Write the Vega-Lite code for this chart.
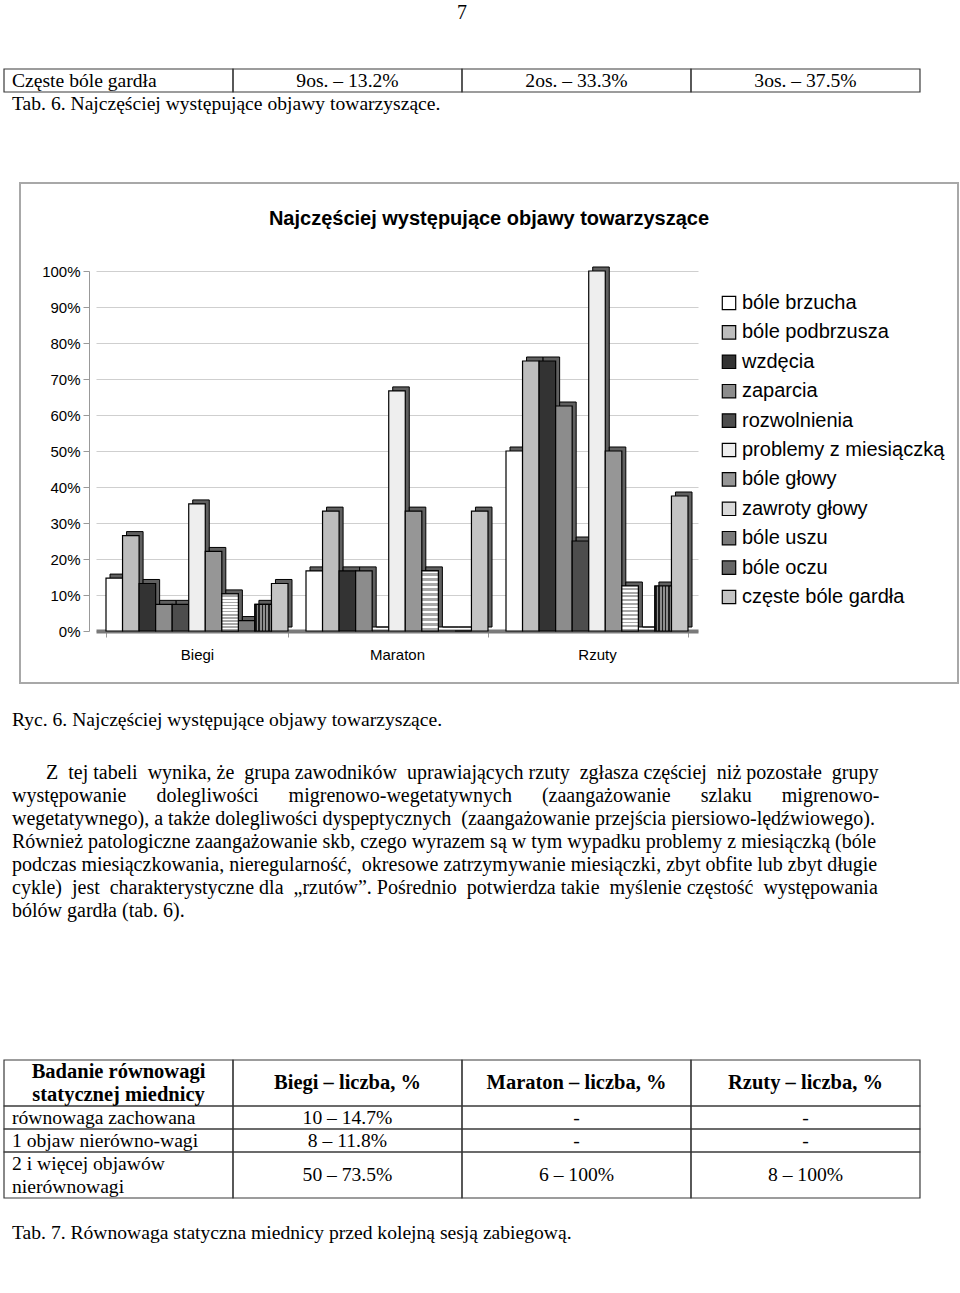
{
  "$schema": "https://vega.github.io/schema/vega-lite/v6.json",
  "padding": 0,
  "spacing": 0,
  "background": "#ffffff",
  "config": {
    "view": {"stroke": null},
    "font": "Liberation Serif",
    "text": {"font": "Liberation Serif", "fontSize": 19.6, "color": "#000000"}
  },
  "datasets": {
    "bars": [
      {"group": "Biegi", "symptom": "bóle brzucha", "value": 14.7},
      {"group": "Biegi", "symptom": "bóle podbrzusza", "value": 26.5},
      {"group": "Biegi", "symptom": "wzdęcia", "value": 13.2},
      {"group": "Biegi", "symptom": "zaparcia", "value": 7.4},
      {"group": "Biegi", "symptom": "rozwolnienia", "value": 7.4},
      {"group": "Biegi", "symptom": "problemy z miesiączką", "value": 35.3},
      {"group": "Biegi", "symptom": "bóle głowy", "value": 22.1},
      {"group": "Biegi", "symptom": "zawroty głowy", "value": 10.3},
      {"group": "Biegi", "symptom": "bóle uszu", "value": 2.9},
      {"group": "Biegi", "symptom": "bóle oczu", "value": 7.4},
      {"group": "Biegi", "symptom": "częste bóle gardła", "value": 13.2},
      {"group": "Maraton", "symptom": "bóle brzucha", "value": 16.7},
      {"group": "Maraton", "symptom": "bóle podbrzusza", "value": 33.3},
      {"group": "Maraton", "symptom": "wzdęcia", "value": 16.7},
      {"group": "Maraton", "symptom": "zaparcia", "value": 16.7},
      {"group": "Maraton", "symptom": "rozwolnienia", "value": 0},
      {"group": "Maraton", "symptom": "problemy z miesiączką", "value": 66.7},
      {"group": "Maraton", "symptom": "bóle głowy", "value": 33.3},
      {"group": "Maraton", "symptom": "zawroty głowy", "value": 16.7},
      {"group": "Maraton", "symptom": "bóle uszu", "value": 0},
      {"group": "Maraton", "symptom": "bóle oczu", "value": 0},
      {"group": "Maraton", "symptom": "częste bóle gardła", "value": 33.3},
      {"group": "Rzuty", "symptom": "bóle brzucha", "value": 50},
      {"group": "Rzuty", "symptom": "bóle podbrzusza", "value": 75},
      {"group": "Rzuty", "symptom": "wzdęcia", "value": 75},
      {"group": "Rzuty", "symptom": "zaparcia", "value": 62.5},
      {"group": "Rzuty", "symptom": "rozwolnienia", "value": 25},
      {"group": "Rzuty", "symptom": "problemy z miesiączką", "value": 100},
      {"group": "Rzuty", "symptom": "bóle głowy", "value": 50},
      {"group": "Rzuty", "symptom": "zawroty głowy", "value": 12.5},
      {"group": "Rzuty", "symptom": "bóle uszu", "value": 0},
      {"group": "Rzuty", "symptom": "bóle oczu", "value": 12.5},
      {"group": "Rzuty", "symptom": "częste bóle gardła", "value": 37.5}
    ],
    "v1text": [
      {"kind": "page", "col": "2", "line": 0.58, "text": "7"},
      {"kind": "left", "col": "0", "line": 3.5, "text": "Częste bóle gardła"},
      {"kind": "center", "col": "1", "line": 3.5, "text": "9os. – 13.2%"},
      {"kind": "center", "col": "2", "line": 3.5, "text": "2os. – 33.3%"},
      {"kind": "center", "col": "3", "line": 3.5, "text": "3os. – 37.5%"},
      {"kind": "left", "col": "0", "line": 4.5, "text": "Tab. 6. Najczęściej występujące objawy towarzyszące."}
    ],
    "v1cells": [
      {"col": "0", "top": 3, "bottom": 4},
      {"col": "1", "top": 3, "bottom": 4},
      {"col": "2", "top": 3, "bottom": 4},
      {"col": "3", "top": 3, "bottom": 4}
    ],
    "v3text": [
      {"kind": "left", "col": "0", "line": 31.2, "text": "Ryc. 6. Najczęściej występujące objawy towarzyszące."},
      {"kind": "indent", "col": "0", "line": 33.5, "text": "Z \u00a0tej tabeli \u00a0wynika, że \u00a0grupa zawodników \u00a0uprawiających rzuty \u00a0zgłasza częściej \u00a0niż pozostałe \u00a0grupy"},
      {"kind": "para", "col": "0", "line": 34.5, "text": "występowanie \u00a0\u00a0\u00a0\u00a0\u00a0dolegliwości \u00a0\u00a0\u00a0\u00a0\u00a0migrenowo-wegetatywnych \u00a0\u00a0\u00a0\u00a0\u00a0(zaangażowanie \u00a0\u00a0\u00a0\u00a0\u00a0szlaku \u00a0\u00a0\u00a0\u00a0\u00a0migrenowo-"},
      {"kind": "para", "col": "0", "line": 35.5, "text": "wegetatywnego), a także dolegliwości dyspeptycznych \u00a0(zaangażowanie przejścia piersiowo-lędźwiowego)."},
      {"kind": "para", "col": "0", "line": 36.5, "text": "Również patologiczne zaangażowanie skb, czego wyrazem są w tym wypadku problemy z miesiączką (bóle"},
      {"kind": "para", "col": "0", "line": 37.5, "text": "podczas miesiączkowania, nieregularność, \u00a0okresowe zatrzymywanie miesiączki, zbyt obfite lub zbyt długie"},
      {"kind": "para", "col": "0", "line": 38.5, "text": "cykle) \u00a0jest \u00a0charakterystyczne dla \u00a0„rzutów”. Pośrednio \u00a0potwierdza takie \u00a0myślenie częstość \u00a0występowania"},
      {"kind": "para", "col": "0", "line": 39.5, "text": "bólów gardła (tab. 6)."},
      {"kind": "head", "col": "0", "line": 46.5, "text": "Badanie równowagi"},
      {"kind": "head", "col": "0", "line": 47.5, "text": "statycznej miednicy"},
      {"kind": "head", "col": "1", "line": 47, "text": "Biegi – liczba, %"},
      {"kind": "head", "col": "2", "line": 47, "text": "Maraton – liczba, %"},
      {"kind": "head", "col": "3", "line": 47, "text": "Rzuty – liczba, %"},
      {"kind": "left", "col": "0", "line": 48.5, "text": "równowaga zachowana"},
      {"kind": "center", "col": "1", "line": 48.5, "text": "10 – 14.7%"},
      {"kind": "center", "col": "2", "line": 48.5, "text": "-"},
      {"kind": "center", "col": "3", "line": 48.5, "text": "-"},
      {"kind": "left", "col": "0", "line": 49.5, "text": "1 objaw nierówno-wagi"},
      {"kind": "center", "col": "1", "line": 49.5, "text": "8 – 11.8%"},
      {"kind": "center", "col": "2", "line": 49.5, "text": "-"},
      {"kind": "center", "col": "3", "line": 49.5, "text": "-"},
      {"kind": "left", "col": "0", "line": 50.5, "text": "2 i więcej objawów"},
      {"kind": "left", "col": "0", "line": 51.5, "text": "nierównowagi"},
      {"kind": "center", "col": "1", "line": 51, "text": "50 – 73.5%"},
      {"kind": "center", "col": "2", "line": 51, "text": "6 – 100%"},
      {"kind": "center", "col": "3", "line": 51, "text": "8 – 100%"},
      {"kind": "left", "col": "0", "line": 53.5, "text": "Tab. 7. Równowaga statyczna miednicy przed kolejną sesją zabiegową."}
    ],
    "v3cells": [
      {"col": "0", "top": 46, "bottom": 48}, {"col": "1", "top": 46, "bottom": 48}, {"col": "2", "top": 46, "bottom": 48}, {"col": "3", "top": 46, "bottom": 48},
      {"col": "0", "top": 48, "bottom": 49}, {"col": "1", "top": 48, "bottom": 49}, {"col": "2", "top": 48, "bottom": 49}, {"col": "3", "top": 48, "bottom": 49},
      {"col": "0", "top": 49, "bottom": 50}, {"col": "1", "top": 49, "bottom": 50}, {"col": "2", "top": 49, "bottom": 50}, {"col": "3", "top": 49, "bottom": 50},
      {"col": "0", "top": 50, "bottom": 52}, {"col": "1", "top": 50, "bottom": 52}, {"col": "2", "top": 50, "bottom": 52}, {"col": "3", "top": 50, "bottom": 52}
    ]
  },
  "vconcat": [
    {
      "width": 960,
      "height": 182,
      "layer": [
        {
          "data": {"name": "v1cells"},
          "mark": {"type": "rect", "filled": false, "stroke": "#3a3a3a", "strokeWidth": 1.2},
          "encoding": {
            "x": {"field": "col", "type": "nominal", "axis": null, "scale": {"domain": ["0", "1", "2", "3"], "paddingInner": 0, "paddingOuter": 0.0961, "align": 0.0909}},
            "y": {"field": "top", "type": "quantitative", "axis": null, "scale": {"domain": [0, 7.913], "reverse": true, "nice": false, "zero": false}},
            "y2": {"field": "bottom"}
          }
        },
        {
          "data": {"name": "v1text"},
          "transform": [{"filter": "datum.kind === 'left'"}],
          "mark": {"type": "text", "align": "left", "baseline": "middle", "dx": 8},
          "encoding": {
            "x": {"field": "col", "type": "nominal", "bandPosition": 0, "axis": null},
            "y": {"field": "line", "type": "quantitative", "axis": null},
            "text": {"field": "text"}
          }
        },
        {
          "data": {"name": "v1text"},
          "transform": [{"filter": "datum.kind === 'center'"}],
          "mark": {"type": "text", "align": "center", "baseline": "middle"},
          "encoding": {
            "x": {"field": "col", "type": "nominal", "bandPosition": 0.5, "axis": null},
            "y": {"field": "line", "type": "quantitative", "axis": null},
            "text": {"field": "text"}
          }
        },
        {
          "data": {"name": "v1text"},
          "transform": [{"filter": "datum.kind === 'page'"}],
          "mark": {"type": "text", "align": "center", "baseline": "middle", "fontSize": 20},
          "encoding": {
            "x": {"field": "col", "type": "nominal", "bandPosition": 0, "axis": null},
            "y": {"field": "line", "type": "quantitative", "axis": null},
            "text": {"field": "text"}
          }
        }
      ]
    },
    {
      "spacing": 18,
      "hconcat": [
        {
          "width": 1,
          "height": 500,
          "data": {"values": [{"t": ""}]},
          "mark": {"type": "text"},
          "encoding": {"text": {"field": "t"}}
        },
        {
          "width": 938,
          "height": 500,
          "view": {"stroke": "#a8a8a8", "strokeWidth": 2},
          "title": {
            "text": "Najczęściej występujące objawy towarzyszące",
            "font": "Liberation Sans",
            "fontSize": 20,
            "fontWeight": "bold",
            "color": "#000000",
            "anchor": "middle",
            "frame": "group",
            "offset": -46
          },
          "data": {"name": "bars"},
          "resolve": {"scale": {"xOffset": "independent"}},
          "encoding": {
            "x": {
              "field": "group",
              "type": "nominal",
              "sort": ["Biegi", "Maraton", "Rzuty"],
              "scale": {"range": [76, 678], "paddingInner": 0.09, "paddingOuter": 0.05},
              "axis": {
                "title": null,
                "orient": "bottom",
                "offset": -52,
                "labelAngle": 0,
                "labelFont": "Liberation Sans",
                "labelFontSize": 15,
                "labelColor": "#000000",
                "labelPadding": 10,
                "ticks": true,
                "tickBand": "extent",
                "tickSize": 6,
                "tickColor": "#999999",
                "domainColor": "#7a7a7a",
                "domainWidth": 4,
                "grid": false
              }
            },
            "y": {
              "field": "value",
              "type": "quantitative",
              "scale": {"domain": [0, 100], "range": [448, 88], "nice": false},
              "axis": {
                "title": null,
                "offset": -69,
                "values": [0, 10, 20, 30, 40, 50, 60, 70, 80, 90, 100],
                "labelExpr": "datum.value + '%'",
                "labelFont": "Liberation Sans",
                "labelFontSize": 15,
                "labelColor": "#000000",
                "labelPadding": 3,
                "tickSize": 6,
                "tickColor": "#999999",
                "domainColor": "#999999",
                "grid": true,
                "gridColor": "#cfcfcf",
                "gridWidth": 1
              }
            }
          },
          "layer": [
            {
              "mark": {"type": "bar", "fill": "#606060", "stroke": "#000000", "strokeWidth": 1, "yOffset": -4},
              "encoding": {
                "xOffset": {
                  "field": "symptom",
                  "type": "nominal",
                  "scale": {"domain": ["bóle brzucha", "bóle podbrzusza", "wzdęcia", "zaparcia", "rozwolnienia", "problemy z miesiączką", "bóle głowy", "zawroty głowy", "bóle uszu", "bóle oczu", "częste bóle gardła"], "range": [4, 186], "paddingInner": 0, "paddingOuter": 0}
                }
              }
            },
            {
              "mark": {"type": "bar", "stroke": "#000000", "strokeWidth": 1.2},
              "encoding": {
                "xOffset": {
                  "field": "symptom",
                  "type": "nominal",
                  "scale": {"domain": ["bóle brzucha", "bóle podbrzusza", "wzdęcia", "zaparcia", "rozwolnienia", "problemy z miesiączką", "bóle głowy", "zawroty głowy", "bóle uszu", "bóle oczu", "częste bóle gardła"], "paddingInner": 0, "paddingOuter": 0}
                },
                "fill": {
                  "field": "symptom",
                  "type": "nominal",
                  "scale": {
                    "domain": ["bóle brzucha", "bóle podbrzusza", "wzdęcia", "zaparcia", "rozwolnienia", "problemy z miesiączką", "bóle głowy", "zawroty głowy", "bóle uszu", "bóle oczu", "częste bóle gardła"],
                    "range": ["#ffffff", "#bdbdbd", "#333333", "#8c8c8c", "#4d4d4d", "#eeeeee", "#969696", "#d9d9d9", "#7a7a7a", "#666666", "#c4c4c4"]
                  },
                  "legend": {
                    "title": null,
                    "orient": "none",
                    "legendX": 719,
                    "legendY": 293,
                    "padding": 0,
                    "symbolType": "square",
                    "symbolSize": 180,
                    "symbolStrokeColor": "#000000",
                    "symbolStrokeWidth": 1.2,
                    "labelFont": "Liberation Sans",
                    "labelFontSize": 20,
                    "labelColor": "#000000",
                    "labelOffset": 3,
                    "rowPadding": 9.4,
                    "labelLimit": 300
                  }
                }
              }
            },
            {
              "transform": [{"filter": "datum.symptom === 'zawroty głowy'"}],
              "mark": {
                "type": "bar",
                "stroke": "#000000",
                "strokeWidth": 1.2,
                "fill": {
                  "gradient": "linear",
                  "x1": 0, "y1": 0, "x2": 0, "y2": 1,
                  "stops": [
                    {"offset": 0, "color": "#ffffff"}, {"offset": 0.0417, "color": "#ffffff"},
                    {"offset": 0.0417, "color": "#a8a8a8"}, {"offset": 0.0833, "color": "#a8a8a8"},
                    {"offset": 0.0833, "color": "#ffffff"}, {"offset": 0.125, "color": "#ffffff"},
                    {"offset": 0.125, "color": "#a8a8a8"}, {"offset": 0.1667, "color": "#a8a8a8"},
                    {"offset": 0.1667, "color": "#ffffff"}, {"offset": 0.2083, "color": "#ffffff"},
                    {"offset": 0.2083, "color": "#a8a8a8"}, {"offset": 0.25, "color": "#a8a8a8"},
                    {"offset": 0.25, "color": "#ffffff"}, {"offset": 0.2917, "color": "#ffffff"},
                    {"offset": 0.2917, "color": "#a8a8a8"}, {"offset": 0.3333, "color": "#a8a8a8"},
                    {"offset": 0.3333, "color": "#ffffff"}, {"offset": 0.375, "color": "#ffffff"},
                    {"offset": 0.375, "color": "#a8a8a8"}, {"offset": 0.4167, "color": "#a8a8a8"},
                    {"offset": 0.4167, "color": "#ffffff"}, {"offset": 0.4583, "color": "#ffffff"},
                    {"offset": 0.4583, "color": "#a8a8a8"}, {"offset": 0.5, "color": "#a8a8a8"},
                    {"offset": 0.5, "color": "#ffffff"}, {"offset": 0.5417, "color": "#ffffff"},
                    {"offset": 0.5417, "color": "#a8a8a8"}, {"offset": 0.5833, "color": "#a8a8a8"},
                    {"offset": 0.5833, "color": "#ffffff"}, {"offset": 0.625, "color": "#ffffff"},
                    {"offset": 0.625, "color": "#a8a8a8"}, {"offset": 0.6667, "color": "#a8a8a8"},
                    {"offset": 0.6667, "color": "#ffffff"}, {"offset": 0.7083, "color": "#ffffff"},
                    {"offset": 0.7083, "color": "#a8a8a8"}, {"offset": 0.75, "color": "#a8a8a8"},
                    {"offset": 0.75, "color": "#ffffff"}, {"offset": 0.7917, "color": "#ffffff"},
                    {"offset": 0.7917, "color": "#a8a8a8"}, {"offset": 0.8333, "color": "#a8a8a8"},
                    {"offset": 0.8333, "color": "#ffffff"}, {"offset": 0.875, "color": "#ffffff"},
                    {"offset": 0.875, "color": "#a8a8a8"}, {"offset": 0.9167, "color": "#a8a8a8"},
                    {"offset": 0.9167, "color": "#ffffff"}, {"offset": 0.9583, "color": "#ffffff"},
                    {"offset": 0.9583, "color": "#a8a8a8"}, {"offset": 1, "color": "#a8a8a8"}
                  ]
                }
              },
              "encoding": {
                "xOffset": {
                  "field": "symptom",
                  "type": "nominal",
                  "scale": {"domain": ["bóle brzucha", "bóle podbrzusza", "wzdęcia", "zaparcia", "rozwolnienia", "problemy z miesiączką", "bóle głowy", "zawroty głowy", "bóle uszu", "bóle oczu", "częste bóle gardła"], "paddingInner": 0, "paddingOuter": 0}
                }
              }
            },
            {
              "transform": [{"filter": "datum.symptom === 'bóle oczu'"}],
              "mark": {
                "type": "bar",
                "stroke": "#000000",
                "strokeWidth": 1.2,
                "fill": {
                  "gradient": "linear",
                  "x1": 0, "y1": 0, "x2": 1, "y2": 0,
                  "stops": [
                    {"offset": 0, "color": "#1e1e1e"}, {"offset": 0.1, "color": "#1e1e1e"},
                    {"offset": 0.1, "color": "#8e8e8e"}, {"offset": 0.2, "color": "#8e8e8e"},
                    {"offset": 0.2, "color": "#1e1e1e"}, {"offset": 0.3, "color": "#1e1e1e"},
                    {"offset": 0.3, "color": "#8e8e8e"}, {"offset": 0.4, "color": "#8e8e8e"},
                    {"offset": 0.4, "color": "#1e1e1e"}, {"offset": 0.5, "color": "#1e1e1e"},
                    {"offset": 0.5, "color": "#8e8e8e"}, {"offset": 0.6, "color": "#8e8e8e"},
                    {"offset": 0.6, "color": "#1e1e1e"}, {"offset": 0.7, "color": "#1e1e1e"},
                    {"offset": 0.7, "color": "#8e8e8e"}, {"offset": 0.8, "color": "#8e8e8e"},
                    {"offset": 0.8, "color": "#1e1e1e"}, {"offset": 0.9, "color": "#1e1e1e"},
                    {"offset": 0.9, "color": "#8e8e8e"}, {"offset": 1, "color": "#8e8e8e"}
                  ]
                }
              },
              "encoding": {
                "xOffset": {
                  "field": "symptom",
                  "type": "nominal",
                  "scale": {"domain": ["bóle brzucha", "bóle podbrzusza", "wzdęcia", "zaparcia", "rozwolnienia", "problemy z miesiączką", "bóle głowy", "zawroty głowy", "bóle uszu", "bóle oczu", "częste bóle gardła"], "paddingInner": 0, "paddingOuter": 0}
                }
              }
            }
          ]
        }
      ]
    },
    {
      "width": 960,
      "height": 611,
      "layer": [
        {
          "data": {"name": "v3cells"},
          "mark": {"type": "rect", "filled": false, "stroke": "#3a3a3a", "strokeWidth": 1.2},
          "encoding": {
            "x": {"field": "col", "type": "nominal", "axis": null, "scale": {"domain": ["0", "1", "2", "3"], "paddingInner": 0, "paddingOuter": 0.0961, "align": 0.0909}},
            "y": {"field": "top", "type": "quantitative", "axis": null, "scale": {"domain": [29.652, 56.217], "reverse": true, "nice": false, "zero": false}},
            "y2": {"field": "bottom"}
          }
        },
        {
          "data": {"name": "v3text"},
          "transform": [{"filter": "datum.kind === 'left'"}],
          "mark": {"type": "text", "align": "left", "baseline": "middle", "dx": 8},
          "encoding": {
            "x": {"field": "col", "type": "nominal", "bandPosition": 0, "axis": null},
            "y": {"field": "line", "type": "quantitative", "axis": null},
            "text": {"field": "text"}
          }
        },
        {
          "data": {"name": "v3text"},
          "transform": [{"filter": "datum.kind === 'para'"}],
          "mark": {"type": "text", "align": "left", "baseline": "middle", "dx": 8, "fontSize": 20},
          "encoding": {
            "x": {"field": "col", "type": "nominal", "bandPosition": 0, "axis": null},
            "y": {"field": "line", "type": "quantitative", "axis": null},
            "text": {"field": "text"}
          }
        },
        {
          "data": {"name": "v3text"},
          "transform": [{"filter": "datum.kind === 'indent'"}],
          "mark": {"type": "text", "align": "left", "baseline": "middle", "dx": 42, "fontSize": 20},
          "encoding": {
            "x": {"field": "col", "type": "nominal", "bandPosition": 0, "axis": null},
            "y": {"field": "line", "type": "quantitative", "axis": null},
            "text": {"field": "text"}
          }
        },
        {
          "data": {"name": "v3text"},
          "transform": [{"filter": "datum.kind === 'center'"}],
          "mark": {"type": "text", "align": "center", "baseline": "middle"},
          "encoding": {
            "x": {"field": "col", "type": "nominal", "bandPosition": 0.5, "axis": null},
            "y": {"field": "line", "type": "quantitative", "axis": null},
            "text": {"field": "text"}
          }
        },
        {
          "data": {"name": "v3text"},
          "transform": [{"filter": "datum.kind === 'head'"}],
          "mark": {"type": "text", "align": "center", "baseline": "middle", "fontWeight": "bold", "fontSize": 20.5},
          "encoding": {
            "x": {"field": "col", "type": "nominal", "bandPosition": 0.5, "axis": null},
            "y": {"field": "line", "type": "quantitative", "axis": null},
            "text": {"field": "text"}
          }
        }
      ]
    }
  ]
}
